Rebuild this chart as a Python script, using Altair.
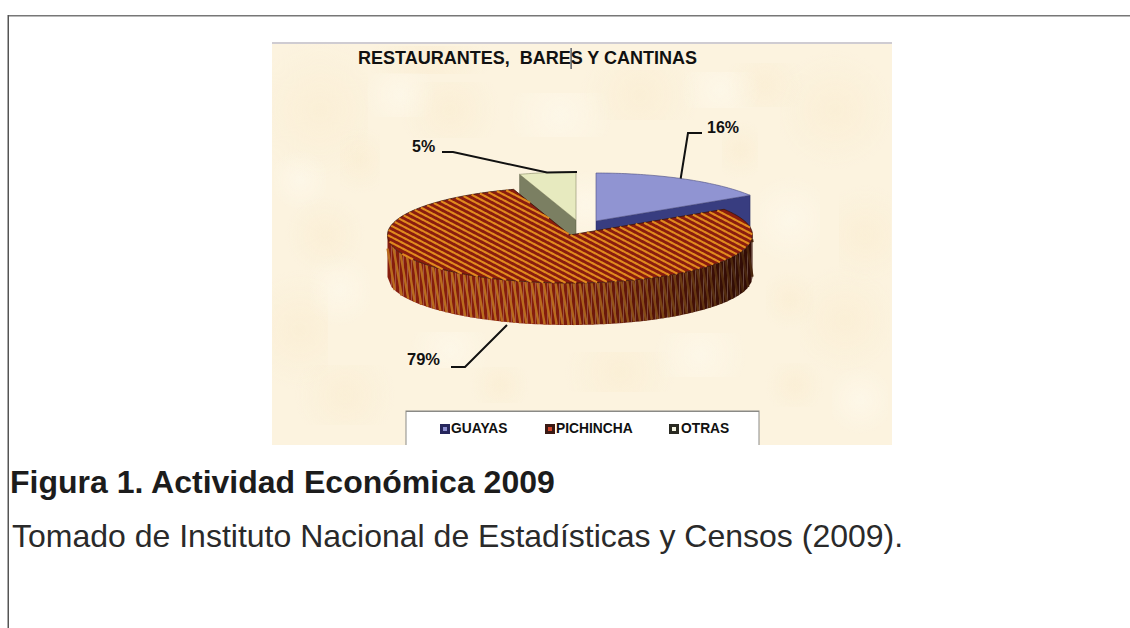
import math
import altair as alt

# Chart contents
title = "RESTAURANTES,\u00a0 BARES Y CANTINAS"
categories = ["GUAYAS", "PICHINCHA", "OTRAS"]
shares = [16, 79, 5]
share_labels = ["16%", "79%", "5%"]
caption_head = "Figura 1. Actividad Económica 2009"
caption_body = "Tomado de Instituto Nacional de Estadísticas y Censos (2009)."

# Pie geometry, in pixels
cx, cy, rx, ry, depth = 570, 235, 182.5, 48, 42
explode = {"GUAYAS": (26, -14), "OTRAS": (6, -15)}

# Pie colours
guayas_top, guayas_wall = "#9094d2", "#383d80"
otras_top, otras_wall = "#e7eabf", "#7b7f62"
stripe_dark, stripe_light = "#8a1c0e", "#e08a1e"

# Mottled parchment patches: x, y, half width, half height
dark_patches = [
    (320, 110, 48, 70), (300, 330, 28, 60), (835, 110, 55, 60), (640, 95, 60, 25), (450, 110, 50, 28),
    (325, 235, 40, 40), (845, 320, 45, 55), (795, 385, 30, 22), (345, 395, 50, 30), (620, 372, 55, 20),
    (500, 385, 30, 18), (865, 235, 26, 50), (765, 85, 40, 22), (790, 300, 24, 30), (430, 60, 60, 14),
    (740, 150, 18, 30), (360, 160, 20, 34),
]
light_patches = [
    (586, 205, 16, 34), (400, 95, 36, 22), (720, 90, 40, 18), (790, 220, 30, 44), (340, 290, 30, 36),
    (860, 400, 28, 34), (560, 115, 52, 22), (300, 180, 26, 30), (450, 350, 40, 18), (700, 355, 46, 22),
]

# Slice angles, clockwise from twelve o'clock; GUAYAS starts at the top
a_guayas = shares[0] * 3.6
a_otras = 360 - shares[2] * 3.6


def rim(angle, ox=0, oy=0, down=0, a=rx, b=ry):
    t = math.radians(angle)
    return (cx + ox + a * math.sin(t), cy + oy - b * math.cos(t) + down)


def arc(a0, a1, ox=0, oy=0, down=0):
    n = max(2, int(abs(a1 - a0)))
    return [rim(a0 + (a1 - a0) * i / n, ox, oy, down) for i in range(n + 1)]


def polygon(points, color=None):
    ring = [list(p) for p in points] + [list(points[0])]
    return {"type": "Feature", "c": color, "geometry": {"type": "Polygon", "coordinates": [ring]}}


def lines(paths, color=None):
    return {"type": "Feature", "c": color,
            "geometry": {"type": "MultiLineString", "coordinates": [[list(p) for p in path] for path in paths]}}


def clipped(x0, y0, dx, dy, length, inside):
    """Runs of a straight line that stay inside a region."""
    runs, run = [], []
    steps = int(length / 0.5)
    for i in range(steps + 1):
        p = (x0 + dx * i * 0.5, y0 + dy * i * 0.5)
        if inside(*p):
            run.append(p)
        elif run:
            runs.append(run)
            run = []
    if run:
        runs.append(run)
    return [r for r in runs if len(r) > 1]


def in_pichincha_top(x, y):
    u, v = (x - cx) / rx, (y - cy) / ry
    if u * u + v * v > 1:
        return False
    ang = math.degrees(math.atan2(u, -v)) % 360
    return a_guayas <= ang <= a_otras


def in_wall(x, y):
    if abs(x - cx) >= rx:
        return False
    half = ry * math.sqrt(1 - ((x - cx) / rx) ** 2)
    return cy + half <= y <= cy + half + depth


def mix(c1, c2, f):
    a = [int(c1[i:i + 2], 16) for i in (1, 3, 5)]
    b = [int(c2[i:i + 2], 16) for i in (1, 3, 5)]
    return "#%02x%02x%02x" % tuple(round(p + (q - p) * f) for p, q in zip(a, b))


def wall_shade(x):
    return min(0.85, max(0.0, (x - cx + 30) / (rx + 30)) * 0.95) + 0.05


# Diagonal stripes on the top face of the large slice
slope = (math.cos(math.atan(0.52)), math.sin(math.atan(0.52)))
top_paths = []
for k in range(-25, 80):
    top_paths += clipped(cx - rx - 10, cy - 190 + k * 5.6, slope[0], slope[1], 430, in_pichincha_top)

# Rim of the large slice: dark bands shaded to the right, with slanted light stripes
wall_bands, wall_stripes = [], []
for k in range(0, 92):
    x0, x1 = cx - rx + k * 4, min(cx + rx, cx - rx + (k + 1) * 4)
    half = [ry * math.sqrt(max(0, 1 - ((x - cx) / rx) ** 2)) for x in (x0, x1)]
    wall_bands.append(polygon(
        [(x0, cy + half[0]), (x1, cy + half[1]), (x1, cy + half[1] + depth), (x0, cy + half[0] + depth)],
        mix("#8a1e0e", "#280b05", wall_shade(x0))))
for k in range(0, 68):
    x0 = cx - rx - 22 + k * 6.0
    wall_stripes.append(lines(clipped(x0, cy - 10, 0.17, 0.985, 120, in_wall),
                              mix("#c0701f", "#3c1d0b", wall_shade(x0))))

# Exploded slices
gx, gy = explode["GUAYAS"]
ox, oy = explode["OTRAS"]
g_apex = (cx + gx, cy + gy)
o_apex = (cx + ox, cy + oy)
g_end = rim(a_guayas, gx, gy)
o_start = rim(a_otras, ox, oy)

guayas_wall_face = polygon([g_apex, g_end, (g_end[0], g_end[1] + depth), (g_apex[0], g_apex[1] + depth)])
guayas_top_face = polygon([g_apex] + arc(0, a_guayas, gx, gy))
otras_wall_face = polygon([o_apex, o_start, (o_start[0], o_start[1] + depth), (o_apex[0], o_apex[1] + depth)])
otras_top_face = polygon([o_apex] + arc(a_otras, 360, ox, oy))
pichincha_top_face = polygon([(cx, cy)] + arc(a_guayas, a_otras))

# Leader lines run from each label to its slice
leaders = lines([
    [(702, 133), (688, 133), rim(a_guayas * 0.48, gx, gy)],
    [(451, 367), (465, 367), (507, 325)],
    [(442, 152), (453, 152), (547, 172.6), (577, 172)],
])


def shapes(features, **mark):
    return alt.Chart(alt.Data(values=features)).mark_geoshape(**mark).project(
        type="identity", scale=1, translate=[0, 0])


def coloured(features, **mark):
    return shapes(features, **mark).encode(color=alt.Color("c:N", scale=None, legend=None))


def box(x0, y0, x1, y1, color):
    return shapes([polygon([(x0, y0), (x1, y0), (x1, y1), (x0, y1)])], fill=color, strokeWidth=0)


def text(s, x, y, size, bold=True, color="#111111", align="left"):
    return alt.Chart(alt.Data(values=[{"t": s}])).mark_text(
        font="Liberation Sans", fontSize=size, fontWeight="bold" if bold else "normal",
        color=color, align=align, baseline="alphabetic",
    ).encode(x=alt.value(x), y=alt.value(y), text="t:N")


def patch_layer(rows, rgb, alpha):
    blob = alt.RadialGradient(gradient="radial", stops=[
        alt.GradientStop(color=f"rgba({rgb},{alpha})", offset=0),
        alt.GradientStop(color=f"rgba({rgb},0)", offset=1),
    ])
    cells = [{"x": x - w, "x2": x + w, "y": y - h, "y2": y + h} for x, y, w, h in rows]
    return alt.Chart(alt.Data(values=cells)).mark_rect(fill=blob).encode(
        x=alt.X("x:Q", scale=None, axis=None), x2="x2:Q",
        y=alt.Y("y:Q", scale=None, axis=None), y2="y2:Q",
    )


def legend_key(x, y, border, centre):
    return [box(x, y, x + 10, y + 10, border), box(x + 3, y + 3, x + 7, y + 7, centre)]


layers = [
    box(0, 0, 1130, 628, "#ffffff"),
    box(8, 15, 1130, 16.5, "#777777"),
    box(7.5, 15, 9, 628, "#555555"),
    # Chart panel
    box(272, 42, 892, 445, "#fcf3df"),
    patch_layer(dark_patches, "248,232,198", 0.35),
    patch_layer(light_patches, "255,252,242", 0.45),
    box(272, 42, 892, 44, "#cfccd2"),
    text(title, 358, 64, 18),
    box(570.5, 48, 571.7, 69, "#333a4a"),
    # Pie, back to front
    shapes([otras_wall_face], fill=otras_wall, stroke="#55583f", strokeWidth=0.5),
    shapes([otras_top_face], fill=otras_top, stroke="#8a8c68", strokeWidth=0.6),
    shapes([guayas_wall_face], fill=guayas_wall, stroke="#262a60", strokeWidth=0.5),
    shapes([guayas_top_face], fill=guayas_top, stroke="#4a4c80", strokeWidth=0.6),
    coloured(wall_bands, strokeWidth=0.3),
    shapes(wall_stripes, filled=False, strokeWidth=2.4).encode(stroke=alt.Stroke("c:N", scale=None, legend=None)),
    shapes([pichincha_top_face], fill=stripe_dark, stroke="#3a1408", strokeWidth=0.8),
    shapes([lines(top_paths)], filled=False, stroke=stripe_light, strokeWidth=2.1),
    # Leaders and value labels
    shapes([leaders], filled=False, stroke="#111111", strokeWidth=2),
    text(share_labels[0], 707, 133, 16),
    text(share_labels[1], 407, 365, 16.5),
    text(share_labels[2], 412, 152, 16),
    # Legend, cut off by the panel's lower edge
    box(405.5, 410.5, 759.5, 445, "#8a8a86"),
    box(406.5, 412, 758.5, 445, "#ffffff"),
    *legend_key(440, 424, "#26265c", "#8e90d0"),
    text(categories[0], 451, 433, 13.8),
    *legend_key(545, 424, "#3a1a14", "#d0442a"),
    text(categories[1], 556, 433, 13.8),
    *legend_key(669, 424, "#2a2a22", "#f4f4e0"),
    text(categories[2], 681, 433, 13.8),
    # Caption below the panel
    text(caption_head, 10, 493, 32, color="#1c1c1c"),
    text(caption_body, 12, 547, 32, bold=False, color="#2a2a2a"),
]

chart = alt.layer(*layers).properties(
    width=1130, height=628, padding=0, autosize=alt.AutoSizeParams(type="none"),
).configure_view(stroke=None)

chart.save("out.html", embed_options={"renderer": "svg", "actions": False})
